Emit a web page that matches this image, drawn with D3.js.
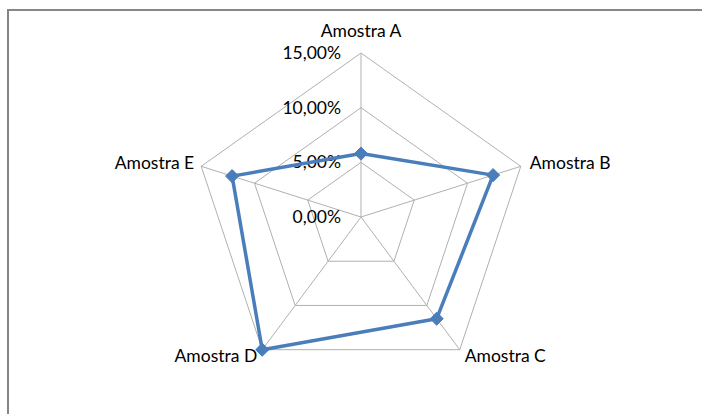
<!DOCTYPE html>
<html>
<head>
<meta charset="utf-8">
<script src="https://cdn.jsdelivr.net/npm/d3@7"></script>
<style>
  body { margin: 0; background: #fff; }
  svg text { font-family: Lato, "Open Sans", sans-serif; fill: #000; }
</style>
</head>
<body>
<svg id="chart" width="702" height="414"></svg>
<script>
// data
var categories = ["Amostra A", "Amostra B", "Amostra C", "Amostra D", "Amostra E"];
var values = [0.058, 0.124, 0.115, 0.15, 0.121];
var ticks = [0, 0.05, 0.10, 0.15];

var width = 702, height = 414;
var cx = 361, cy = 217;

var svg = d3.select("#chart");

// outer frame of the chart area
svg.append("rect")
    .attr("x", 8).attr("y", 10)
    .attr("width", 760).attr("height", 460)
    .attr("fill", "#fff")
    .attr("stroke", "#868686")
    .attr("stroke-width", 2);

// the plot is a touch wider than tall in the original
var rx = d3.scaleLinear().domain([0, 0.15]).range([0, 168]);
var ry = d3.scaleLinear().domain([0, 0.15]).range([0, 164]);
var angle = d3.scaleBand().domain(categories).range([0, 2 * Math.PI]).paddingInner(0).paddingOuter(0);
function ang(c) { return angle(c) - Math.PI / 2; }
function px(c, v) { return cx + rx(v) * Math.cos(ang(c)); }
function py(c, v) { return cy + ry(v) * Math.sin(ang(c)); }

var g = svg.append("g");

// grid pentagons
g.selectAll("polygon.grid")
    .data(ticks.filter(function(t) { return t > 0; }))
    .enter().append("polygon")
    .attr("class", "grid")
    .attr("points", function(t) {
        return categories.map(function(c) { return px(c, t) + "," + py(c, t); }).join(" ");
    })
    .attr("fill", "none")
    .attr("stroke", "#b0b0b0")
    .attr("stroke-width", 1);

// spokes
g.selectAll("line.spoke")
    .data(categories)
    .enter().append("line")
    .attr("class", "spoke")
    .attr("x1", cx).attr("y1", cy)
    .attr("x2", function(c) { return px(c, 0.15); })
    .attr("y2", function(c) { return py(c, 0.15); })
    .attr("stroke", "#b0b0b0")
    .attr("stroke-width", 1);

// tick labels along the first axis
var fmt = function(t) { return (t * 100).toFixed(2).replace(".", ",") + "%"; };
g.selectAll("text.tick")
    .data(ticks)
    .enter().append("text")
    .attr("class", "tick")
    .attr("x", cx - 20)
    .attr("y", function(t) { return cy - ry(t); })
    .attr("dy", "0.35em")
    .attr("text-anchor", "end")
    .attr("font-size", 17.5)
    .text(fmt);

// category labels
var labelPos = {
    "Amostra A": { dx: 0, dy: -22, anchor: "middle" },
    "Amostra B": { dx: 9, dy: -3, anchor: "start" },
    "Amostra C": { dx: 5, dy: 6, anchor: "start" },
    "Amostra D": { dx: -5, dy: 6, anchor: "end" },
    "Amostra E": { dx: -7, dy: -3, anchor: "end" }
};
g.selectAll("text.cat")
    .data(categories)
    .enter().append("text")
    .attr("class", "cat")
    .attr("x", function(c) { return px(c, 0.15) + labelPos[c].dx; })
    .attr("y", function(c) { return py(c, 0.15) + labelPos[c].dy; })
    .attr("dy", "0.35em")
    .attr("text-anchor", function(c) { return labelPos[c].anchor; })
    .attr("font-size", 17.5)
    .text(function(c) { return c; });

// series line
var pts = categories.map(function(c, i) { return [px(c, values[i]), py(c, values[i])]; });
g.append("path")
    .attr("d", d3.line().curve(d3.curveLinearClosed)(pts))
    .attr("fill", "none")
    .attr("stroke", "#4a7ebb")
    .attr("stroke-width", 3.5)
    .attr("stroke-linejoin", "round");

// diamond markers
g.selectAll("path.marker")
    .data(pts)
    .enter().append("path")
    .attr("class", "marker")
    .attr("transform", function(p) { return "translate(" + p[0] + "," + p[1] + ")"; })
    .attr("d", d3.symbol().type(d3.symbolDiamond2).size(110))
    .attr("fill", "#4a7ebb")
    .attr("stroke", "#4a7ebb")
    .attr("stroke-width", 1);
</script>
</body>
</html>
